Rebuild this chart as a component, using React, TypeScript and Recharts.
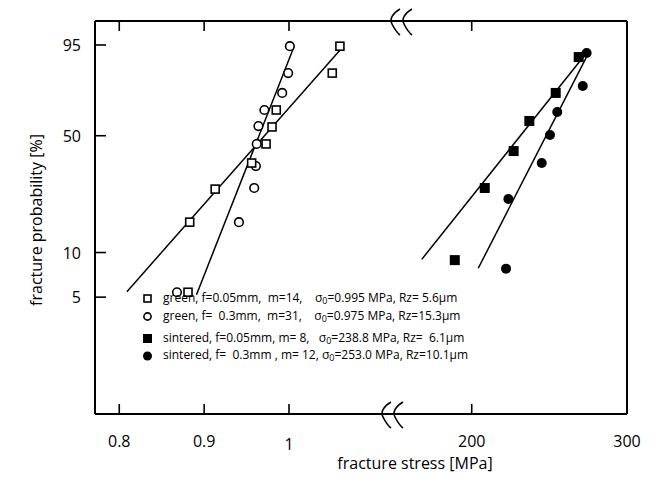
import React from 'react'
import { ComposedChart, Scatter, XAxis, YAxis } from 'recharts'

// green body, f=0.05mm (open squares)
const greenFineStress = [1.06, 1.051, 0.985, 0.98, 0.973, 0.956, 0.913, 0.883, 0.881]
const greenFineProb = [94.7, 85.1, 65.0, 55.0, 45.5, 36.0, 25.4, 15.8, 5.4]
// green body, f=0.3mm (open circles)
const greenCoarseStress = [1.001, 0.999, 0.992, 0.971, 0.964, 0.962, 0.961, 0.959, 0.941, 0.868]
const greenCoarseProb = [94.7, 85.1, 74.9, 65.0, 55.5, 45.5, 34.6, 25.8, 15.8, 5.4]
// sintered, f=0.05mm (filled squares)
const sinteredFineStress = [268.9, 254.1, 237.1, 227.0, 208.4, 189.1]
const sinteredFineProb = [91.5, 74.9, 58.5, 41.8, 25.8, 8.9]
// sintered, f=0.3mm (filled circles)
const sinteredCoarseStress = [274.0, 271.5, 255.1, 250.4, 245.1, 223.6, 222.1]
const sinteredCoarseProb = [92.8, 78.7, 63.8, 50.4, 36.0, 22.1, 7.8]

// fitted weibull lines (end points)
const greenFineFitStress = [0.809, 1.061]
const greenFineFitProb = [5.45, 93.9]
const greenCoarseFitStress = [0.891, 1.006]
const greenCoarseFitProb = [5.2, 94.6]
const sinteredFineFitStress = [167.8, 274.0]
const sinteredFineFitProb = [9.0, 92.9]
const sinteredCoarseFitStress = [204.2, 275.7]
const sinteredCoarseFitProb = [7.85, 93.2]

const greenTicks = [0.8, 0.9, 1]
const sinteredTicks = [200, 300]
const probTicks = [5, 10, 50, 95]

const greenDomain = [0.7714, 1.3983]
const sinteredDomain = [-42.6, 300]

// weibull probability scale: ln(-ln(1-F))
const weib = (p: number) => Math.log(-Math.log(1 - p / 100))
const probDomain = [-4.855, 1.484]

const toPoints = (xs: number[], ps: number[]) => xs.map((x, i) => ({ x, y: weib(ps[i]) }))

const W = 641
const H = 470
const M = { top: 13, right: 22, bottom: 64, left: 0 }
const Y_W = 87
const THIN = 0.001
const FONT = '"Open Sans", "DejaVu Sans", sans-serif'

// plot box, same as what recharts gets from margins + axis width
const plotL = M.left + Y_W
const plotR = W - M.right
const plotT = M.top
const plotB = H - M.bottom
const xPos = (v: number, d: number[]) => plotL + ((v - d[0]) / (d[1] - d[0])) * (plotR - plotL)
const yPos = (p: number) => plotB - ((weib(p) - probDomain[0]) / (probDomain[1] - probDomain[0])) * (plotB - plotT)

const hollowSquare = (p: any) => (
  <rect x={p.cx - 4} y={p.cy - 4} width={8} height={8} fill="#fff" stroke="#000" strokeWidth={1.6} />
)
const hollowCircle = (p: any) => (
  <circle cx={p.cx} cy={p.cy} r={4.3} fill="#fff" stroke="#000" strokeWidth={1.6} />
)
const filledSquare = (p: any) => (
  <rect x={p.cx - 5} y={p.cy - 5} width={10} height={10} fill="#000" />
)
const filledCircle = (p: any) => <circle cx={p.cx} cy={p.cy} r={5} fill="#000" />
const noDot = () => <g />

const BottomTick = (props: any) => {
  const { x, y, payload } = props
  const v = payload.value
  return (
    <text x={x} y={y + (v === 1 ? 36 : 33)} textAnchor="middle" fontSize={16} fontFamily={FONT} fill="#000">
      {String(v)}
    </text>
  )
}

const LeftTick = (props: any) => {
  const { x, y, payload } = props
  const p = probTicks.find((t) => Math.abs(weib(t) - payload.value) < 1e-6)
  return (
    <text x={x - 14} y={y + 6} textAnchor="end" fontSize={16} fontFamily={FONT} fill="#000">
      {p}
    </text>
  )
}

const legendRows = [
  { mark: 'hs', a: 'green, f=0.05mm,  m=14,    ', s: '=0.995 MPa, Rz= 5.6µm' },
  { mark: 'hc', a: 'green, f=  0.3mm,  m=31,    ', s: '=0.975 MPa, Rz=15.3µm' },
  { mark: 'fs', a: 'sintered, f=0.05mm, m= 8,   ', s: '=238.8 MPa, Rz=  6.1µm' },
  { mark: 'fc', a: 'sintered, f=  0.3mm , m= 12, ', s: '=253.0 MPa, Rz=10.1µm' },
]
const legendTops = [282, 300, 322, 339]

const Marker = ({ kind }: { kind: string }) => (
  <svg width={12} height={12} style={{ position: 'absolute', left: -21, top: 3 }}>
    {kind === 'hs' && <rect x={2} y={2} width={7} height={7} fill="#fff" stroke="#000" strokeWidth={1.6} />}
    {kind === 'hc' && <circle cx={5.5} cy={5.5} r={3.6} fill="#fff" stroke="#000" strokeWidth={1.6} />}
    {kind === 'fs' && <rect x={1} y={1} width={9} height={9} fill="#000" />}
    {kind === 'fc' && <circle cx={5.5} cy={6} r={4.5} fill="#000" />}
  </svg>
)

const breakPath = (cx: number, y: number) =>
  `M ${cx + 5} ${y - 12} C ${cx - 2} ${y - 8}, ${cx - 6} ${y - 2}, ${cx - 3} ${y + 3} C ${cx - 1} ${y + 7}, ${cx + 1} ${y + 11}, ${cx + 5} ${y + 14}`

const frame = { stroke: '#000', strokeWidth: 2 }

export default function App() {
  const xTickPx = [
    ...greenTicks.map((v) => xPos(v, greenDomain)),
    ...sinteredTicks.filter((v) => v < sinteredDomain[1]).map((v) => xPos(v, sinteredDomain)),
  ]
  return (
    <div style={{ position: 'relative', width: W, height: H, fontFamily: FONT }}>
      <ComposedChart width={W} height={H} margin={M}>
        <XAxis
          xAxisId="g"
          type="number"
          dataKey="x"
          domain={greenDomain}
          ticks={greenTicks}
          height={THIN}
          tickSize={0}
          tickMargin={0}
          tick={BottomTick}
          axisLine={frame}
          tickLine={false}
        />
        <XAxis
          xAxisId="s"
          type="number"
          dataKey="x"
          domain={sinteredDomain}
          ticks={sinteredTicks}
          height={THIN}
          tickSize={0}
          tickMargin={0}
          tick={BottomTick}
          axisLine={false}
          tickLine={false}
        />
        <XAxis
          xAxisId="gt"
          orientation="top"
          type="number"
          domain={greenDomain}
          ticks={greenTicks}
          height={THIN}
          tick={false}
          axisLine={frame}
          tickLine={false}
        />
        <YAxis
          yAxisId="p"
          type="number"
          dataKey="y"
          domain={probDomain}
          ticks={probTicks.map(weib)}
          width={Y_W}
          tickSize={0}
          tickMargin={0}
          tick={LeftTick}
          axisLine={frame}
          tickLine={false}
        />
        <YAxis
          yAxisId="r"
          orientation="right"
          type="number"
          domain={probDomain}
          width={THIN}
          tick={false}
          axisLine={frame}
          tickLine={false}
        />

        <Scatter xAxisId="g" yAxisId="p" data={toPoints(greenFineFitStress, greenFineFitProb)} shape={noDot} line={{ stroke: '#000', strokeWidth: 1.5 }} isAnimationActive={false} />
        <Scatter xAxisId="g" yAxisId="p" data={toPoints(greenCoarseFitStress, greenCoarseFitProb)} shape={noDot} line={{ stroke: '#000', strokeWidth: 1.5 }} isAnimationActive={false} />
        <Scatter xAxisId="s" yAxisId="p" data={toPoints(sinteredFineFitStress, sinteredFineFitProb)} shape={noDot} line={{ stroke: '#000', strokeWidth: 1.5 }} isAnimationActive={false} />
        <Scatter xAxisId="s" yAxisId="p" data={toPoints(sinteredCoarseFitStress, sinteredCoarseFitProb)} shape={noDot} line={{ stroke: '#000', strokeWidth: 1.5 }} isAnimationActive={false} />

        <Scatter xAxisId="g" yAxisId="p" data={toPoints(greenCoarseStress, greenCoarseProb)} shape={hollowCircle} isAnimationActive={false} />
        <Scatter xAxisId="g" yAxisId="p" data={toPoints(greenFineStress, greenFineProb)} shape={hollowSquare} isAnimationActive={false} />
        <Scatter xAxisId="s" yAxisId="p" data={toPoints(sinteredFineStress, sinteredFineProb)} shape={filledSquare} isAnimationActive={false} />
        <Scatter xAxisId="s" yAxisId="p" data={toPoints(sinteredCoarseStress, sinteredCoarseProb)} shape={filledCircle} isAnimationActive={false} />
      </ComposedChart>

      <svg width={W} height={H} style={{ position: 'absolute', left: 0, top: 0, pointerEvents: 'none' }}>
        {/* inward tick marks on bottom, top and left frame */}
        {xTickPx.map((px, i) => (
          <g key={'xt' + i}>
            <line x1={px} x2={px} y1={plotB} y2={plotB - 10} stroke="#000" strokeWidth={1.6} />
            <line x1={px} x2={px} y1={plotT} y2={plotT + 10} stroke="#000" strokeWidth={1.6} />
          </g>
        ))}
        {probTicks.map((p) => (
          <line key={'yt' + p} x1={plotL} x2={plotL + 11} y1={yPos(p)} y2={yPos(p)} stroke="#000" strokeWidth={1.6} />
        ))}
        {[378, 390].map((cx) => (
          <path key={'b' + cx} d={breakPath(cx, plotB)} fill="none" stroke="#000" strokeWidth={1.6} />
        ))}
        {[387, 399].map((cx) => (
          <path key={'t' + cx} d={breakPath(cx, plotT)} fill="none" stroke="#000" strokeWidth={1.6} />
        ))}
        <text x={407} y={461} textAnchor="middle" fontSize={16} fontFamily={FONT} fill="#000">
          fracture stress [MPa]
        </text>
        <text x={28} y={212} textAnchor="middle" fontSize={16} fontFamily={FONT} fill="#000" transform="rotate(-90 28 212)" dy={6}>
          fracture probability [%]
        </text>
      </svg>

      {legendRows.map((r, i) => (
        <div
          key={i}
          style={{
            position: 'absolute',
            left: 155,
            top: legendTops[i],
            fontSize: 12,
            lineHeight: '16px',
            whiteSpace: 'pre',
            color: '#000',
          }}
        >
          <Marker kind={r.mark} />
          {r.a}σ<sub style={{ fontSize: 9, verticalAlign: -2 }}>0</sub>
          {r.s}
        </div>
      ))}
    </div>
  )
}
